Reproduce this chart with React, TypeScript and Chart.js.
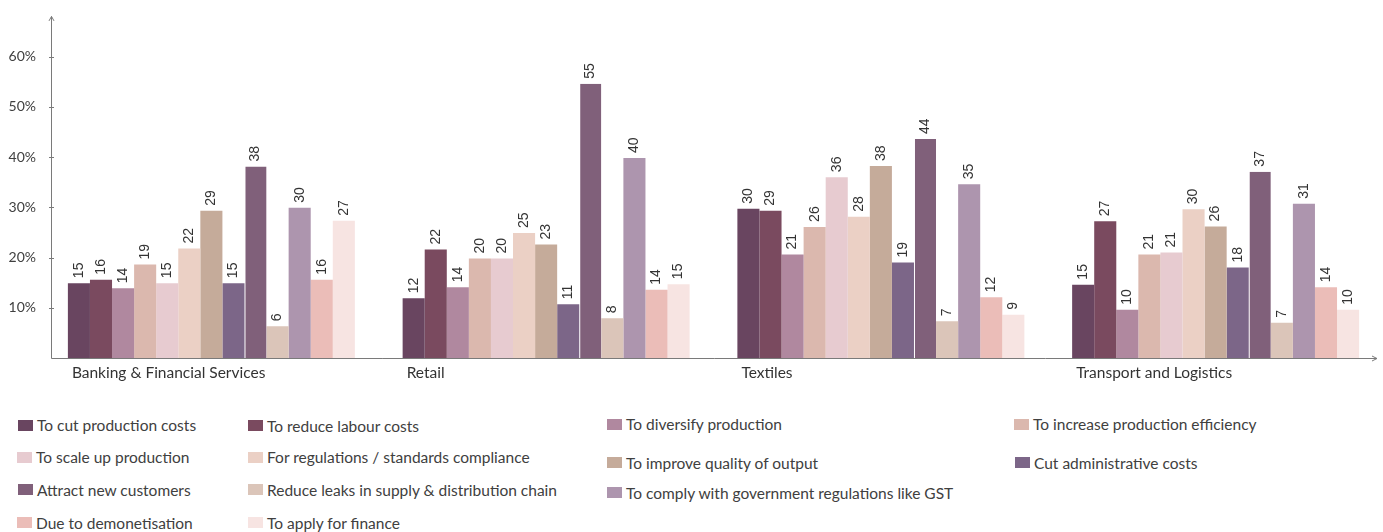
import React, { useEffect, useRef } from "react";
import { Chart, registerables } from "chart.js";

Chart.register(...registerables);

const categories = ["Banking & Financial Services", "Retail", "Textiles", "Transport and Logistics"];

const seriesNames = [
  "To cut production costs",
  "To reduce labour costs",
  "To diversify production",
  "To increase production efficiency",
  "To scale up production",
  "For regulations / standards compliance",
  "To improve quality of output",
  "Cut administrative costs",
  "Attract new customers",
  "Reduce leaks in supply & distribution chain",
  "To comply with government regulations like GST",
  "Due to demonetisation",
  "To apply for finance",
];

const seriesColors = [
  "#694560", "#7a4a5f", "#b0889f", "#dbb8ae", "#e7cbd0", "#ebd0c5", "#c5ab9a",
  "#7c6688", "#80607a", "#dbc5b9", "#ad95ae", "#ebbdb8", "#f7e4e2",
];

// values per category, one per series (in series order)
const bankingValues = [14.9, 15.6, 13.9, 18.6, 14.9, 21.8, 29.3, 14.9, 38.1, 6.3, 29.9, 15.6, 27.3];
const retailValues = [11.9, 21.6, 14.1, 19.8, 19.8, 24.9, 22.6, 10.7, 54.6, 7.9, 39.8, 13.6, 14.7];
const textilesValues = [29.7, 29.3, 20.6, 26.1, 36.0, 28.1, 38.2, 19.0, 43.6, 7.3, 34.6, 12.1, 8.6];
const transportValues = [14.6, 27.2, 9.6, 20.6, 21.0, 29.6, 26.2, 18.0, 37.1, 7.0, 30.7, 14.1, 9.6];

const yTickValues = [10, 20, 30, 40, 50, 60];
const yMax = 68;

// legend layout: [left, centerY] for each series box
const legendLayout: [number, number][] = [
  [18, 425], [248, 425.5], [607, 424], [1014, 424],
  [17, 457], [248, 457], [607, 462.5], [1015, 462.5],
  [18, 489.5], [248, 489.5], [607, 492.5],
  [17, 522.5], [248, 522.5],
];

const axisPlugin = {
  id: "customAxes",
  afterDatasetsDraw(chart: any) {
    const { ctx, chartArea, scales } = chart;
    const y = scales.y;
    const ax = chartArea.left + 7.5;
    const base = chartArea.bottom + 0.5;
    const endX = chartArea.right - 6;
    ctx.save();
    ctx.strokeStyle = "#7a7a7a";
    ctx.lineWidth = 1;
    ctx.beginPath();
    ctx.moveTo(ax, base);
    ctx.lineTo(ax, chartArea.top);
    ctx.moveTo(ax - 2.5, chartArea.top + 4.5);
    ctx.lineTo(ax, chartArea.top);
    ctx.lineTo(ax + 2.5, chartArea.top + 4.5);
    ctx.moveTo(ax, base);
    ctx.lineTo(endX, base);
    ctx.moveTo(endX - 5, base - 2.5);
    ctx.lineTo(endX, base);
    ctx.lineTo(endX - 5, base + 2.5);
    yTickValues.forEach((v) => {
      const py = Math.round(y.getPixelForValue(v)) + 0.5;
      ctx.moveTo(ax - 2.5, py);
      ctx.lineTo(ax + 2.5, py);
    });
    ctx.stroke();
    ctx.restore();
  },
};

const labelPlugin = {
  id: "barLabels",
  afterDatasetsDraw(chart: any) {
    const { ctx } = chart;
    ctx.save();
    ctx.font = '14px "Liberation Sans", Arial, sans-serif';
    ctx.fillStyle = "#333333";
    ctx.textAlign = "left";
    ctx.textBaseline = "middle";
    chart.data.datasets.forEach((ds: any, i: number) => {
      const meta = chart.getDatasetMeta(i);
      meta.data.forEach((bar: any, j: number) => {
        const v = ds.data[j];
        ctx.save();
        ctx.translate(bar.x, bar.y - 5);
        ctx.rotate(-Math.PI / 2);
        ctx.fillText(String(Math.round(v)), 0, 0);
        ctx.restore();
      });
    });
    ctx.restore();
  },
};

export default function App() {
  const canvasRef = useRef<HTMLCanvasElement | null>(null);

  useEffect(() => {
    const categoryValues = [bankingValues, retailValues, textilesValues, transportValues];
    const datasets = seriesNames.map((name, s) => ({
      label: name,
      data: categoryValues.map((arr) => arr[s]),
      backgroundColor: seriesColors[s],
      borderColor: "#ffffff",
      borderWidth: s === 8 ? { top: 0, right: 0, bottom: 0, left: 1 } : 0,
      borderSkipped: false as any,
      categoryPercentage: 0.8573,
      barPercentage: 1,
    }));
    const chart = new Chart(canvasRef.current as HTMLCanvasElement, {
      type: "bar",
      data: { labels: categories, datasets },
      options: {
        animation: false,
        responsive: false,
        layout: { padding: { top: 14, left: 0, right: 0, bottom: 0 } },
        plugins: { legend: { display: false }, tooltip: { enabled: false } },
        scales: {
          x: {
            type: "category",
            offset: true,
            grid: { display: false, drawTicks: false },
            border: { display: false },
            ticks: {
              align: "start",
              labelOffset: -139.5,
              padding: 6,
              autoSkip: false,
              maxRotation: 0,
              minRotation: 0,
              color: "#333333",
              font: { family: "Lato", size: 15.5 },
            },
            afterFit: (s: any) => {
              s.height = 42;
              s.paddingLeft = 0;
              s.paddingRight = 0;
            },
          },
          y: {
            type: "linear",
            min: 0,
            max: yMax,
            grid: { display: false, drawTicks: false },
            border: { display: false },
            afterBuildTicks: (s: any) => {
              s.ticks = yTickValues.map((v) => ({ value: v }));
            },
            ticks: {
              padding: 8,
              color: "#404040",
              font: { family: "Lato", size: 14 },
              callback: (v: any) => v + "%",
            },
            afterFit: (s: any) => {
              s.width = 44;
            },
          },
        },
      },
      plugins: [axisPlugin, labelPlugin],
    });
    return () => chart.destroy();
  }, []);

  return (
    <div style={{ position: "absolute", left: 0, top: 0, width: 1383, height: 532, background: "#ffffff" }}>
      <canvas ref={canvasRef} width={1383} height={400} style={{ display: "block" }} />
      {seriesNames.map((name, i) => (
        <div
          key={name}
          style={{
            position: "absolute",
            left: legendLayout[i][0],
            top: legendLayout[i][1] - 10,
            height: 20,
            display: "flex",
            alignItems: "center",
            fontFamily: "Lato",
            fontSize: 15.5,
            color: "#404040",
            whiteSpace: "nowrap",
          }}
        >
          <span style={{ display: "inline-block", width: 15, height: 11, background: seriesColors[i], marginRight: 4 }} />
          <span>{name}</span>
        </div>
      ))}
    </div>
  );
}
